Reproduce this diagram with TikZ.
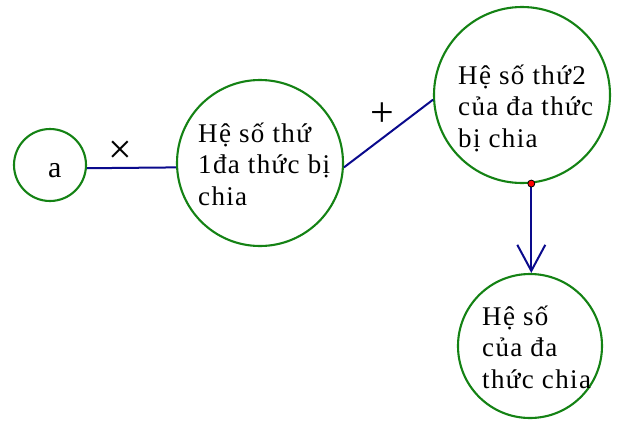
\documentclass[tikz,border=0pt]{standalone}
\usepackage{fontspec}
\setmainfont[LetterSpace=5]{Liberation Serif}
\newfontfamily\symfont{Liberation Serif}
\usetikzlibrary{arrows.meta}
\definecolor{cgreen}{RGB}{20,130,20}
\definecolor{cblue}{RGB}{10,10,140}
\tikzset{
  bubble/.style={circle, draw=cgreen, line width=2.1pt, inner sep=0pt},
  txt/.style={anchor=base west, inner sep=0pt, font=\fontsize{27}{31.5}\selectfont},
  conn/.style={draw=cblue, line width=2pt},
  sym/.style={inner sep=0pt, font=\symfont\fontsize{42}{42}\selectfont}
}
\newcommand{\ml}[1]{\begin{tabular}[t]{@{}l@{}}#1\end{tabular}}
\begin{document}
\begin{tikzpicture}[x=1pt,y=-1pt]
\useasboundingbox (0,0) rectangle (619,421);
% circles
\node[bubble, minimum size=72pt] (c1) at (50,165) {};
\node[bubble, minimum size=166pt] (c2) at (260,163) {};
\node[bubble, minimum size=176pt] (c3) at (522,95) {};
\node[bubble, minimum size=144pt] (c4) at (530,346) {};
% texts
\node[txt, font=\fontsize{30}{34}\selectfont] (t1) at (48,177) {a};
\node[txt] (t2) at (198,142) {\ml{Hệ số thứ\\1đa thức bị\\chia}};
\node[txt] (t3) at (458,84) {\ml{Hệ số thứ2\\của đa thức\\bị chia}};
\node[txt] (t4) at (482,325) {\ml{Hệ số\\của đa\\thức chia}};
% connectors
\draw[conn] (c1.-5) -- (c2.183.5);
\draw[conn] (c2.-3) -- (c3.183);
\coordinate (d) at (c3.-84);
\draw[conn, -{Straight Barb[length=26pt,width=28pt]}] (d) -- (d |- c4.north);
\fill[red, draw=black, line width=0.8pt] (d) circle (3.5pt);
% operation labels
\node[sym] (x) at (120,152) {×};
\node[sym] (p) at (382,115) {+};
\end{tikzpicture}
\end{document}
